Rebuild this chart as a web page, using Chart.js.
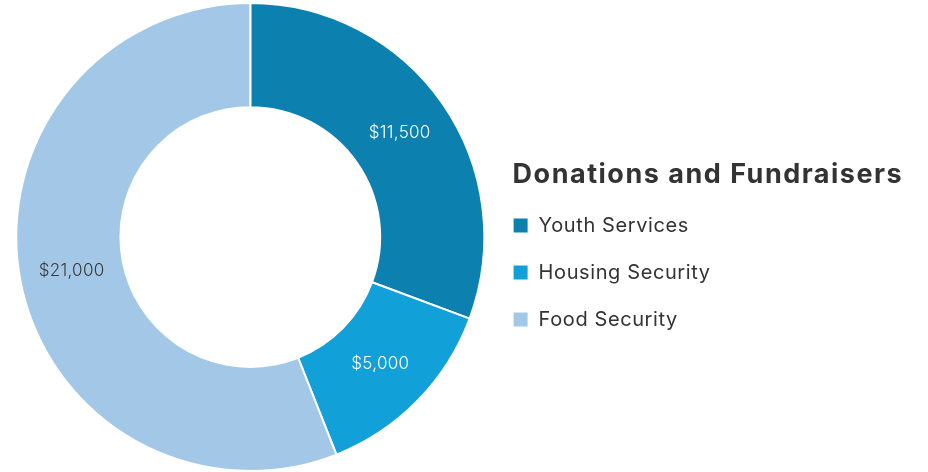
<!DOCTYPE html>
<html>
<head>
<meta charset="utf-8">
<script src="https://cdn.jsdelivr.net/npm/chart.js@4"></script>
<style>
  html, body { margin: 0; padding: 0; background: #fff; }
  #wrap { width: 928px; height: 472px; }
</style>
</head>
<body>
<div id="wrap"><canvas id="myChart" width="928" height="472"></canvas></div>
<script>
const chartTitle = 'Donations and Fundraisers';
const categories = ['Youth Services', 'Housing Security', 'Food Security'];
const amounts = [11500, 5000, 21000];
const colors = ['#0c81b0', '#12a0d8', '#a3c8e7'];
const labelColors = ['#ffffff', '#ffffff', '#3a3a3a'];

const FONT = 'Inter, "Open Sans", sans-serif';

// money labels in the middle of each slice
const sliceLabels = {
  id: 'sliceLabels',
  afterDatasetsDraw(chart) {
    const ctx = chart.ctx;
    const meta = chart.getDatasetMeta(0);
    ctx.save();
    ctx.font = '300 17px ' + FONT;
    ctx.letterSpacing = '0.3px';
    ctx.textAlign = 'center';
    ctx.textBaseline = 'middle';
    meta.data.forEach((arc, i) => {
      const p = arc.tooltipPosition();
      ctx.fillStyle = labelColors[i];
      ctx.fillText('$' + amounts[i].toLocaleString('en-US'), p.x, p.y);
    });
    ctx.restore();
  }
};

// legend heading, lined up with the legend boxes; a bit of tracking on legend text
const legendHeading = {
  id: 'legendHeading',
  beforeDraw(chart) {
    chart.ctx.letterSpacing = '0.6px';
  },
  afterDraw(chart) {
    const lg = chart.legend;
    const ctx = chart.ctx;
    ctx.letterSpacing = '0px';
    if (!lg || !lg.legendHitBoxes.length) return;
    const first = lg.legendHitBoxes[0];
    ctx.save();
    ctx.font = '700 27px ' + FONT;
    ctx.letterSpacing = '1.5px';
    ctx.fillStyle = '#333333';
    ctx.textAlign = 'left';
    ctx.textBaseline = 'alphabetic';
    ctx.fillText(chartTitle, first.left, first.top - 33);
    ctx.restore();
  }
};

new Chart(document.getElementById('myChart'), {
  type: 'doughnut',
  data: {
    labels: categories,
    datasets: [{
      data: amounts,
      backgroundColor: colors,
      borderColor: '#ffffff',
      borderWidth: 2,
      hoverOffset: 0
    }]
  },
  options: {
    responsive: false,
    animation: false,
    cutout: '55.5%',
    layout: { padding: { left: 15, top: 2, bottom: 0, right: 217 } },
    plugins: {
      tooltip: { enabled: false },
      legend: {
        position: 'right',
        title: { display: true, text: '', padding: { top: 31, bottom: 25.6 } },
        labels: {
          boxWidth: 16,
          boxHeight: 16,
          padding: 27,
          color: '#333333',
          font: { family: FONT, size: 20, weight: '400' }
        }
      }
    }
  },
  plugins: [sliceLabels, legendHeading]
});
</script>
</body>
</html>
